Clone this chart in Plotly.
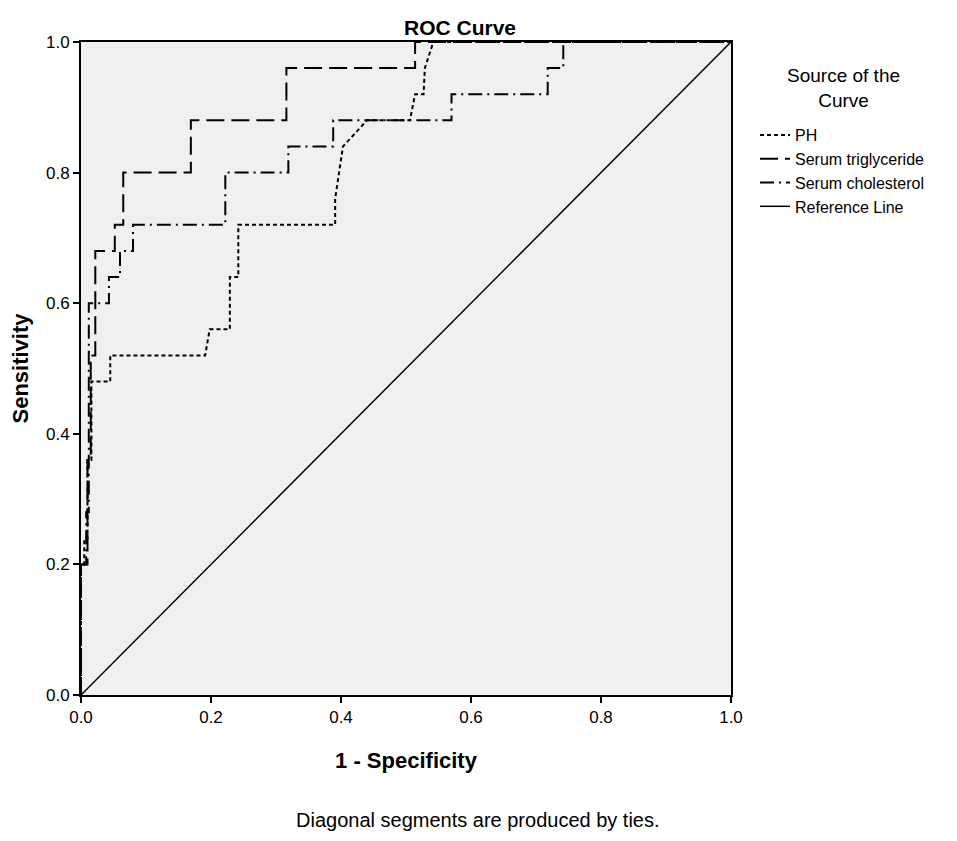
import plotly.graph_objects as go

# ROC coordinates (1 - specificity, sensitivity)
ph_fpr = [0, 0, 0.005, 0.005, 0.01, 0.01, 0.016, 0.016, 0.045, 0.045, 0.191, 0.198,
          0.229, 0.229, 0.242, 0.242, 0.391, 0.391, 0.403, 0.44, 0.506, 0.514,
          0.527, 0.529, 0.542, 1.0]
ph_tpr = [0, 0.20, 0.20, 0.24, 0.24, 0.36, 0.36, 0.48, 0.48, 0.52, 0.52, 0.56,
          0.56, 0.64, 0.64, 0.72, 0.72, 0.76, 0.84, 0.88, 0.88, 0.92,
          0.92, 0.96, 1.0, 1.0]

tg_fpr = [0, 0, 0.01, 0.01, 0.015, 0.015, 0.022, 0.022, 0.052, 0.052, 0.065, 0.065,
          0.169, 0.169, 0.316, 0.316, 0.514, 0.514, 1.0]
tg_tpr = [0, 0.20, 0.20, 0.36, 0.36, 0.52, 0.52, 0.68, 0.68, 0.72, 0.72, 0.80,
          0.80, 0.88, 0.88, 0.96, 0.96, 1.0, 1.0]

chol_fpr = [0, 0, 0.008, 0.008, 0.012, 0.012, 0.012, 0.043, 0.043, 0.06, 0.06, 0.08,
            0.08, 0.222, 0.222, 0.319, 0.319, 0.388, 0.388, 0.57, 0.57, 0.718,
            0.718, 0.742, 0.742, 1.0]
chol_tpr = [0, 0.20, 0.20, 0.28, 0.28, 0.52, 0.60, 0.60, 0.64, 0.64, 0.68, 0.68,
            0.72, 0.72, 0.80, 0.80, 0.84, 0.84, 0.88, 0.88, 0.92, 0.92,
            0.96, 0.96, 1.0, 1.0]

ref_x = [0, 1]
ref_y = [0, 1]

tick_vals = [0.0, 0.2, 0.4, 0.6, 0.8, 1.0]

FONT = "Liberation Sans, Arial, sans-serif"

# the page body adds an 8px offset, so the figure is sized for that
OFF = 8
L, T, PW, PH = 81 - OFF, 42 - OFF, 650, 653
W, H = 957 - OFF, 841 - OFF

fig = go.Figure()
fig.add_trace(go.Scatter(x=ph_fpr, y=ph_tpr, mode="lines", name="PH",
                         line=dict(color="black", width=2, dash="4px,3px")))
fig.add_trace(go.Scatter(x=tg_fpr, y=tg_tpr, mode="lines", name="Serum triglyceride",
                         line=dict(color="black", width=2, dash="18px,7px")))
fig.add_trace(go.Scatter(x=chol_fpr, y=chol_tpr, mode="lines", name="Serum cholesterol",
                         line=dict(color="black", width=2, dash="14px,5px,2px,5px")))
fig.add_trace(go.Scatter(x=ref_x, y=ref_y, mode="lines", name="Reference Line",
                         line=dict(color="black", width=1.5)))

axis_common = dict(
    range=[0, 1], tickvals=tick_vals, tickformat=".1f",
    showgrid=False, zeroline=False, automargin=False,
    showline=True, linecolor="black", linewidth=2, mirror=True,
    ticks="outside", ticklen=6, tickwidth=1.5, tickcolor="black",
    tickfont=dict(family=FONT, size=17, color="black"),
)


def px_x(px):
    # page pixel -> paper x
    return (px - 81) / PW


def px_y(py):
    # page pixel -> paper y
    return (695 - py) / PH


fig.update_layout(
    width=W, height=H,
    margin=dict(l=L, r=W - L - PW, t=T, b=H - T - PH),
    paper_bgcolor="white", plot_bgcolor="#f0f0f0",
    font=dict(family=FONT, color="black"),
    xaxis=dict(axis_common, title=dict(text="<b>1 - Specificity</b>",
                                       font=dict(family=FONT, size=22), standoff=26)),
    yaxis=dict(axis_common, title=dict(text="<b>Sensitivity</b>",
                                       font=dict(family=FONT, size=22), standoff=24)),
    showlegend=True,
    legend=dict(
        x=px_x(755), y=px_y(118), xanchor="left", yanchor="top",
        bgcolor="rgba(0,0,0,0)", itemwidth=30, tracegroupgap=0,
        font=dict(family=FONT, size=16, color="black"),
    ),
    annotations=[
        dict(text="<b>ROC Curve</b>", x=px_x(460), y=px_y(27), xref="paper", yref="paper",
             xanchor="center", yanchor="middle", showarrow=False,
             font=dict(family=FONT, size=21)),
        dict(text="Source of the<br>Curve", x=px_x(843), y=px_y(88), xref="paper",
             yref="paper", xanchor="center", yanchor="middle", align="center",
             showarrow=False, font=dict(family=FONT, size=19)),
        dict(text="Diagonal segments are produced by ties.", x=px_x(478), y=px_y(820),
             xref="paper", yref="paper", xanchor="center", yanchor="middle",
             showarrow=False, font=dict(family=FONT, size=20)),
    ],
)

fig.write_html("out.html")
